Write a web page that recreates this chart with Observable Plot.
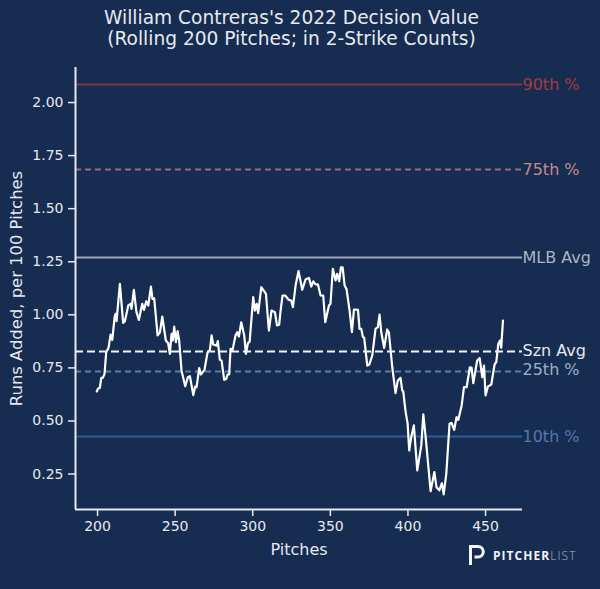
<!DOCTYPE html>
<html><head><meta charset="utf-8">
<script src="https://cdn.jsdelivr.net/npm/d3@7"></script>
<script src="https://cdn.jsdelivr.net/npm/@observablehq/plot@0.6"></script>
<style>
html,body{margin:0;padding:0;background:#162c50;width:600px;height:589px;overflow:hidden;font-family:"DejaVu Sans",sans-serif;color:#e6e9ef}
#t{position:absolute;left:-8.5px;top:7px;width:600px;text-align:center;font-size:18.6px;line-height:21px;height:48px}
#c{position:absolute;left:0;top:55px}
#logo{position:absolute;left:469px;top:545px;display:flex;align-items:center}
#logo span{font-size:12px;letter-spacing:1.05px;margin-left:8px;font-family:"Open Sans","DejaVu Sans",sans-serif;font-weight:700;color:#f2f4f7}
#logo b{font-weight:300;color:#aab4c2}
text{font-family:"DejaVu Sans",sans-serif}
</style></head><body>
<div id="t">William Contreras's 2022 Decision Value<br>(Rolling 200 Pitches; in 2-Strike Counts)</div>
<div id="c"></div>
<div id="logo"><svg width="16" height="21" viewBox="0 0 16 21"><path d="M1.5 20V1.5H9a5.2 5.2 0 0 1 0 10.6H5.5" fill="none" stroke="#f2f4f7" stroke-width="3"/></svg><span>PITCHER<b>LIST</b></span></div>
<script>
const pitches=[199.5,200.4,201.5,202.4,203.4,204.5,205.6,207.1,208.4,209.5,211,211.6,212.25,214.4,216.5,217.6,219.8,221.3,221.9,223.4,225.1,226.6,228.8,229.9,231.4,232.7,234.4,235.4,236.5,238.7,240.2,241.7,244,245.5,246.6,247.7,248.5,249.4,250.5,251.6,252.6,254.1,256.5,258.2,259.5,261.7,262.9,263.8,265.5,266.6,268.9,270.9,272.4,273.5,274.5,276.7,277.5,278.8,279.9,281.6,282.9,283.8,284.8,285.7,287,288.9,290,291.1,292.6,294.5,295.6,296.9,298,300.3,301.4,302.5,303.5,305.5,308.5,310.4,312.1,314.3,315.6,317,317.9,319.2,320.9,323.1,324.8,325.9,327.6,329.5,331.9,334,336.2,337.7,339,340.5,342,343.7,345.4,346.7,349.1,350.1,351.6,353.4,354.4,355.7,356.8,357.9,359.2,360.4,362.4,363.9,365.2,367.8,368.8,369.9,371,371.8,373.8,375.1,377,379.1,380.6,381.7,382.8,384.7,386.6,387.7,389.9,392,393.5,395.2,396.3,396.95,398.5,399.8,400.8,402.1,403.8,406,408.6,409.9,411.4,414.6,417,418.4,420.2,421.9,423,424.7,426.8,428.1,429.8,431.3,432.4,434.6,436.1,437.8,439.9,441,442.1,444.6,446.2,447.9,449,450,451.5,453.7,455.8,456.9,458.2,459.3,460.1,461.2];
const runsAdded=[.639,.653,.656,.703,.703,.722,.824,.845,.907,.882,.989,1.005,.970,1.146,.962,.970,1.044,1.052,1.028,1.118,1.012,.976,1.052,1.023,1.064,1.044,1.133,1.075,1.078,.903,.918,.992,.879,.866,.816,.910,.879,.945,.871,.923,.879,.738,.664,.706,.711,.622,.662,.659,.749,.719,.741,.824,.835,.903,.860,.855,.876,.788,.785,.694,.698,.719,.719,.840,.835,.903,.918,.898,.965,.903,.816,.867,.874,1.083,1.020,1.052,1.008,1.130,1.099,.926,1.020,1.012,.950,.953,1.017,1.091,1.091,1.071,1.067,1.036,1.138,1.206,1.118,1.166,1.174,1.133,1.158,1.143,1.143,1.091,1.091,.965,1.044,1.052,1.217,1.162,1.193,1.158,1.224,1.224,1.138,1.122,1.020,.918,1.025,1.023,.934,.934,.895,.892,.761,.766,.808,.934,.942,1.001,.918,.844,.931,.918,.753,.631,.691,.703,.644,.640,.542,.487,.361,.424,.479,.267,.385,.531,.424,.169,.259,.188,.173,.207,.154,.251,.487,.491,.458,.518,.505,.573,.659,.659,.753,.750,.678,.785,.796,.706,.761,.620,.662,.672,.766,.777,.863,.879,.845,.973];
const refLabels=["90th %","75th %","MLB Avg","Szn Avg","25th %","10th %"];
const refValues=[2.085,1.684,1.27,.827,.733,.427];
const labelValues=[2.085,1.684,1.27,.83,.74,.427];
const refColors=["#8a3246","#a06a74","#9aa7b8","#f2f4f7","#5f7ca3","#2c5a9c"];
const refText=["#a63a44","#c58a8d","#aab5c4","#e6e9ef","#9fb0c8","#5479ad"];
const refDash=["none","6,4","none","8,4","6,4","none"];
const xDomain=[185.8,473.8], yDomain=[.083,2.165];
const rows=pitches.map((p,i)=>({p,v:runsAdded[i]}));
const refs=refLabels.map((label,i)=>({label,value:refValues[i],lv:labelValues[i],color:refColors[i],tc:refText[i],dash:refDash[i]}));
const ink="#e6e9ef";
const plot=Plot.plot({
  width:600,height:534,
  marginLeft:75,marginRight:78,marginTop:12,marginBottom:80,
  style:{background:"transparent",color:ink,fontFamily:"DejaVu Sans",overflow:"visible"},
  x:{domain:xDomain,label:null,ticks:[200,250,300,350,400,450]},
  y:{domain:yDomain,label:null,ticks:[.25,.5,.75,1,1.25,1.5,1.75,2]},
  marks:[
    refs.filter(r=>r.label!=="Szn Avg").map(r=>Plot.ruleY([r.value],{stroke:r.color,strokeWidth:2,strokeDasharray:r.dash})),
    Plot.line(rows,{x:"p",y:"v",stroke:"#ffffff",strokeWidth:2.2,strokeLinejoin:"round"}),
    refs.filter(r=>r.label==="Szn Avg").map(r=>Plot.ruleY([r.value],{stroke:r.color,strokeWidth:2,strokeDasharray:r.dash})),
    Plot.ruleX([xDomain[0]],{stroke:ink,strokeWidth:2}),
    Plot.ruleY([yDomain[0]],{stroke:ink,strokeWidth:2}),
    Plot.axisX({ticks:[200,250,300,350,400,450],tickSize:7,tickPadding:5,fontSize:14,stroke:ink,strokeWidth:1.5,color:ink,label:null,tickFormat:d=>d}),
    Plot.axisY({ticks:[.25,.5,.75,1,1.25,1.5,1.75,2],tickSize:7,tickPadding:5,fontSize:14,stroke:ink,strokeWidth:1.5,label:null,tickFormat:d3.format(".2f")}),
    refs.map(r=>Plot.text([r.label],{x:()=>xDomain[1],y:()=>r.lv,text:d=>d,textAnchor:"start",fill:r.tc,fontSize:16})),
    Plot.text(["Pitches"],{x:()=>(xDomain[0]+xDomain[1])/2,y:()=>yDomain[0],dy:40,text:d=>d,fontSize:16,fill:ink}),
    Plot.text(["Runs Added, per 100 Pitches"],{x:()=>xDomain[0],y:()=>(yDomain[0]+yDomain[1])/2,dx:-59,rotate:-90,text:d=>d,fontSize:16.4,fill:ink})
  ]
});
document.getElementById("c").appendChild(plot);
</script></body></html>
